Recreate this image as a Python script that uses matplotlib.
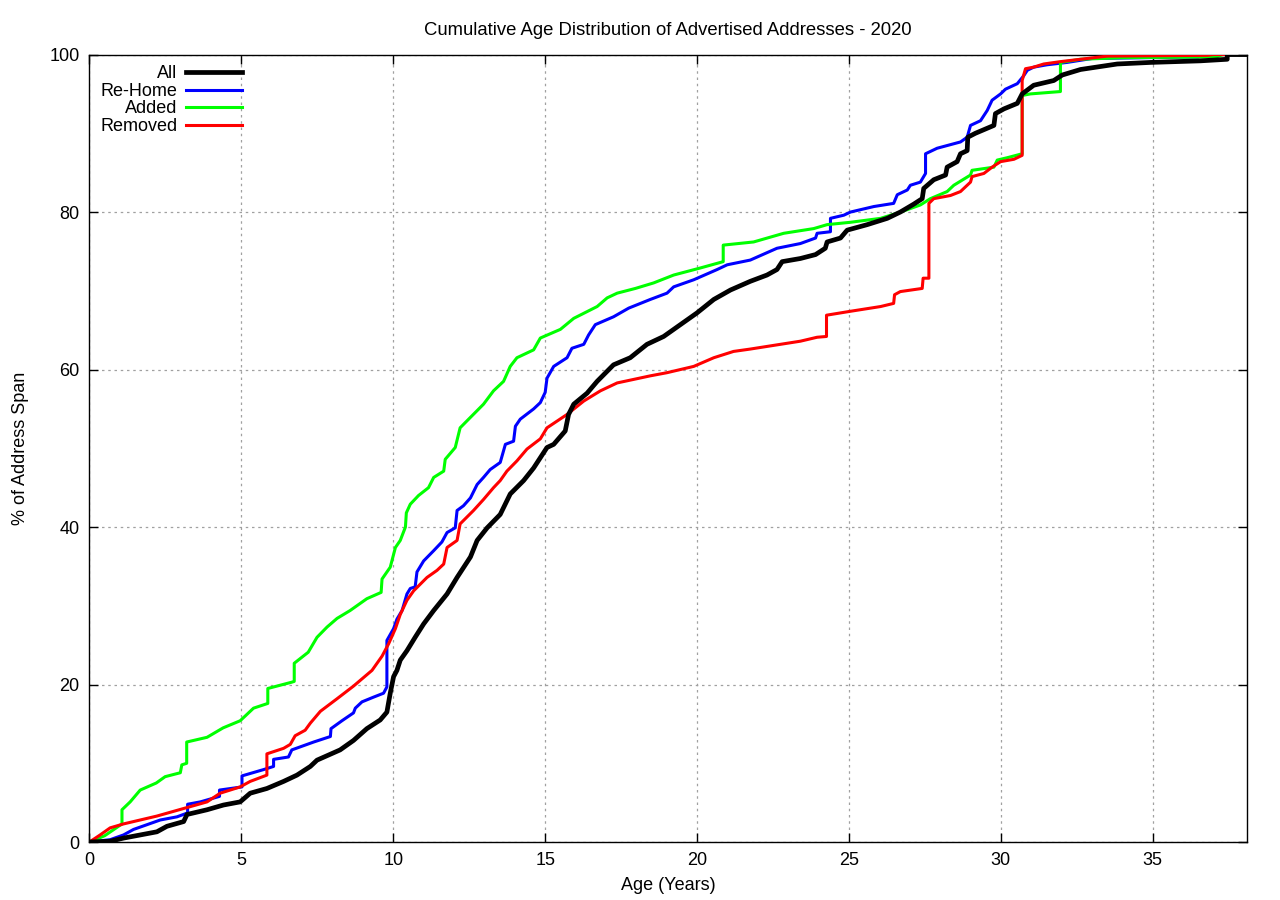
import matplotlib
matplotlib.use("Agg")
import matplotlib.pyplot as plt

plt.rcParams['font.family'] = ['Liberation Sans', 'DejaVu Sans']
plt.rcParams['font.size'] = 13

# -----------------------------
# Data (age in years, % of address span)
# repeated x values mark the vertical jumps
# -----------------------------
all_x = [0, 0.68, 1.12, 1.67, 2.22, 2.55, 3.1, 3.21, 3.87, 4.41, 4.96, 5.29, 5.84, 6.39,
         6.83, 7.27, 7.49, 8.25, 8.69, 9.13, 9.57, 9.79, 9.9, 10.01, 10.12, 10.23, 10.45,
         10.72, 11.0, 11.33, 11.77, 12.1, 12.54, 12.76, 13.09, 13.52, 13.85, 14.29, 14.62,
         15.06, 15.28, 15.66, 15.77, 15.94, 16.38, 16.71, 17.25, 17.8, 18.35, 18.9, 19.45,
         20.0, 20.55, 21.1, 21.75, 22.3, 22.63, 22.8, 23.4, 23.9, 24.22, 24.28, 24.72, 24.94,
         25.6, 26.26, 26.69, 27.13, 27.41, 27.46, 27.79, 28.18, 28.23, 28.56, 28.67, 28.89,
         28.91, 29.16, 29.77, 29.82, 30.1, 30.54, 30.7, 31.08, 31.74, 32.02, 32.62, 33.83,
         34.93, 36.57, 37.45, 37.45, 38.1]
all_y = [0, 0.1, 0.5, 0.9, 1.3, 2.0, 2.6, 3.5, 4.1, 4.7, 5.1, 6.2, 6.8, 7.7,
         8.5, 9.6, 10.4, 11.7, 12.9, 14.4, 15.5, 16.5, 18.9, 21.0, 21.8, 23.1, 24.3,
         26.0, 27.7, 29.4, 31.5, 33.6, 36.2, 38.3, 39.9, 41.6, 44.2, 45.9, 47.5,
         50.1, 50.5, 52.2, 54.3, 55.6, 57.0, 58.5, 60.6, 61.5, 63.2, 64.2, 65.7,
         67.2, 68.9, 70.1, 71.2, 72.0, 72.7, 73.7, 74.1, 74.6, 75.4, 76.2, 76.7, 77.7,
         78.4, 79.2, 80.0, 81.0, 81.7, 83.0, 84.1, 84.7, 85.7, 86.4, 87.4, 87.8,
         89.5, 90.0, 91.0, 92.5, 93.1, 93.8, 95.0, 96.1, 96.7, 97.4, 98.1, 98.8,
         99.0, 99.2, 99.4, 100, 100]

rehome_x = [0, 0.68, 1.12, 1.45, 1.89, 2.33, 2.88, 3.23, 3.23, 3.65, 4.28, 4.28, 5.02, 5.02,
            5.73, 6.06, 6.06, 6.55, 6.66, 7.38, 7.93, 7.95, 8.31, 8.69, 8.75, 8.97, 9.35,
            9.68, 9.79, 9.79, 10.01, 10.12, 10.29, 10.45, 10.56, 10.72, 10.78, 11.0, 11.33,
            11.6, 11.77, 12.04, 12.1, 12.31, 12.54, 12.76, 12.97, 13.19, 13.52, 13.69, 13.96,
            14.02, 14.18, 14.62, 14.84, 15.0, 15.06, 15.28, 15.72, 15.88, 16.27, 16.43, 16.65,
            17.25, 17.75, 18.46, 19.01, 19.23, 19.89, 20.66, 20.99, 21.75, 22.63, 23.4, 23.9,
            23.95, 24.39, 24.39, 24.83, 25.05, 25.82, 26.47, 26.59, 26.92, 27.02, 27.35, 27.52,
            27.52, 27.9, 28.67, 28.89, 29.0, 29.33, 29.55, 29.71, 29.99, 30.15, 30.54, 30.75,
            30.87, 31.08, 31.52, 32.18, 33.0, 36.5, 36.6, 38.1]
rehome_y = [0, 0.3, 0.9, 1.6, 2.2, 2.8, 3.2, 3.7, 4.8, 5.1, 5.8, 6.6, 7.0, 8.4,
            9.2, 9.6, 10.5, 10.8, 11.7, 12.7, 13.4, 14.4, 15.4, 16.4, 17.0, 17.8, 18.4,
            18.9, 19.7, 25.6, 27.1, 28.3, 29.4, 31.5, 32.2, 32.4, 34.3, 35.7, 37.0,
            38.1, 39.3, 39.9, 42.1, 42.7, 43.7, 45.4, 46.3, 47.3, 48.2, 50.5, 50.9,
            52.8, 53.7, 55.0, 55.8, 57.1, 58.9, 60.4, 61.5, 62.7, 63.2, 64.4, 65.7,
            66.7, 67.8, 68.9, 69.7, 70.5, 71.4, 72.7, 73.3, 73.9, 75.4, 76.0, 76.7,
            77.3, 77.5, 79.2, 79.6, 80.0, 80.7, 81.1, 82.2, 82.8, 83.4, 83.8, 84.9,
            87.4, 88.1, 88.9, 89.5, 91.0, 91.6, 92.9, 94.2, 95.0, 95.6, 96.3, 97.3,
            98.0, 98.4, 98.7, 99.0, 99.5, 99.7, 100, 100]

added_x = [0, 0.5, 1.07, 1.07, 1.34, 1.67, 2.2, 2.49, 2.99, 3.04, 3.2, 3.2, 3.87, 4.4, 4.96,
           5.4, 5.87, 5.87, 6.66, 6.74, 6.74, 7.2, 7.49, 7.82, 8.15, 8.58, 9.13, 9.6, 9.63,
           9.9, 10.07, 10.23, 10.4, 10.43, 10.56, 10.83, 11.16, 11.33, 11.66, 11.71, 12.04,
           12.2, 12.43, 12.97, 13.3, 13.63, 13.85, 14.07, 14.62, 14.84, 15.5, 15.94, 16.71,
           17.04, 17.37, 17.97, 18.57, 19.23, 20.11, 20.86, 20.86, 21.86, 22.85, 23.84, 24.28,
           25.05, 26.04, 26.7, 27.35, 27.68, 28.23, 28.45, 29.0, 29.05, 29.77, 29.88, 30.21,
           30.7, 30.7, 30.97, 31.96, 31.96, 32.62, 34.0, 37.1, 37.3, 38.1]
added_y = [0, 0.8, 2.3, 4.1, 5.1, 6.6, 7.5, 8.3, 8.8, 9.8, 10.0, 12.7, 13.3, 14.5, 15.4,
           17.0, 17.6, 19.5, 20.3, 20.4, 22.7, 24.1, 26.0, 27.3, 28.4, 29.4, 30.9, 31.7, 33.4,
           34.9, 37.4, 38.3, 40.0, 41.8, 42.9, 44.0, 45.0, 46.3, 47.1, 48.6, 50.1,
           52.6, 53.5, 55.6, 57.3, 58.5, 60.4, 61.5, 62.5, 64.0, 65.1, 66.5, 68.0,
           69.1, 69.7, 70.3, 71.0, 72.0, 72.9, 73.7, 75.8, 76.2, 77.3, 77.9, 78.4,
           78.7, 79.2, 80.0, 80.9, 81.7, 82.6, 83.4, 84.7, 85.3, 85.7, 86.6, 86.9,
           87.4, 94.8, 95.0, 95.3, 99.0, 99.4, 99.6, 99.7, 100, 100]

removed_x = [0, 0.35, 0.68, 1.12, 1.67, 2.22, 2.77, 3.32, 3.87, 4.3, 4.96, 5.29, 5.84, 5.84,
             6.39, 6.61, 6.77, 7.1, 7.27, 7.6, 8.15, 8.69, 9.3, 9.63, 9.85, 10.07, 10.23,
             10.45, 10.67, 11.11, 11.44, 11.66, 11.77, 12.1, 12.2, 12.64, 12.97, 13.3, 13.52,
             13.74, 14.07, 14.4, 14.84, 15.06, 15.72, 16.27, 16.82, 17.37, 18.46, 19.01, 19.89,
             20.55, 21.2, 21.75, 22.74, 23.4, 23.95, 24.26, 24.26, 25.05, 26.04, 26.47, 26.5,
             26.69, 27.41, 27.44, 27.63, 27.63, 27.79, 28.34, 28.67, 29.0, 29.05, 29.44, 29.71,
             29.99, 30.43, 30.7, 30.7, 30.81, 31.08, 31.41, 31.96, 32.62, 33.5, 36.8, 37.0, 38.1]
removed_y = [0, 0.9, 1.8, 2.3, 2.8, 3.3, 3.9, 4.5, 5.1, 6.2, 7.0, 7.7, 8.5, 11.2,
             11.9, 12.4, 13.5, 14.2, 15.1, 16.6, 18.2, 19.8, 21.8, 23.6, 25.2, 27.1, 28.9,
             30.7, 31.9, 33.6, 34.5, 35.3, 37.4, 38.3, 40.4, 42.1, 43.5, 45.0, 45.9,
             47.1, 48.4, 49.9, 51.2, 52.6, 54.3, 56.0, 57.3, 58.3, 59.2, 59.6, 60.4,
             61.5, 62.3, 62.6, 63.2, 63.6, 64.1, 64.2, 66.9, 67.4, 68.0, 68.4, 69.5,
             69.9, 70.3, 71.6, 71.6, 81.1, 81.7, 82.1, 82.6, 83.8, 84.5, 84.9, 85.7,
             86.4, 86.7, 87.2, 96.7, 98.2, 98.4, 98.8, 99.1, 99.4, 99.8, 99.9, 100, 100]

# Plot
fig = plt.figure(figsize=(12.8, 9), dpi=100)
ax = fig.add_axes([0.0699, 0.0644, 0.9043, 0.875])

ax.plot(all_x, all_y, color='#000000', linewidth=3.4, label='All', zorder=6)
ax.plot(rehome_x, rehome_y, color='#0000ff', linewidth=2.2, label='Re-Home', zorder=3)
ax.plot(added_x, added_y, color='#00ff00', linewidth=2.2, label='Added', zorder=4)
ax.plot(removed_x, removed_y, color='#ff0000', linewidth=2.2, label='Removed', zorder=5)

ax.set_xlim(0, 38.1)
ax.set_ylim(0, 100)
ax.set_xticks(range(0, 36, 5))
ax.set_yticks(range(0, 101, 20))
ax.tick_params(direction='in', top=True, right=True, length=6.5, width=1, pad=7)
ax.grid(True, color='#a0a0a0', linestyle=(0, (2, 3)), linewidth=0.9)
for s in ax.spines.values():
    s.set_linewidth(1.0)

ax.set_title("Cumulative Age Distribution of Advertised Addresses - 2020", fontsize=13.3, pad=14)
ax.set_xlabel("Age (Years)", labelpad=6)
ax.set_ylabel("% of Address Span", labelpad=15)

ax.legend(loc='upper left', markerfirst=False, frameon=False, handlelength=3.1,
          handletextpad=0.5, labelspacing=0.03, borderaxespad=0.2, borderpad=0.4)

fig.savefig('out.png', dpi=100)
